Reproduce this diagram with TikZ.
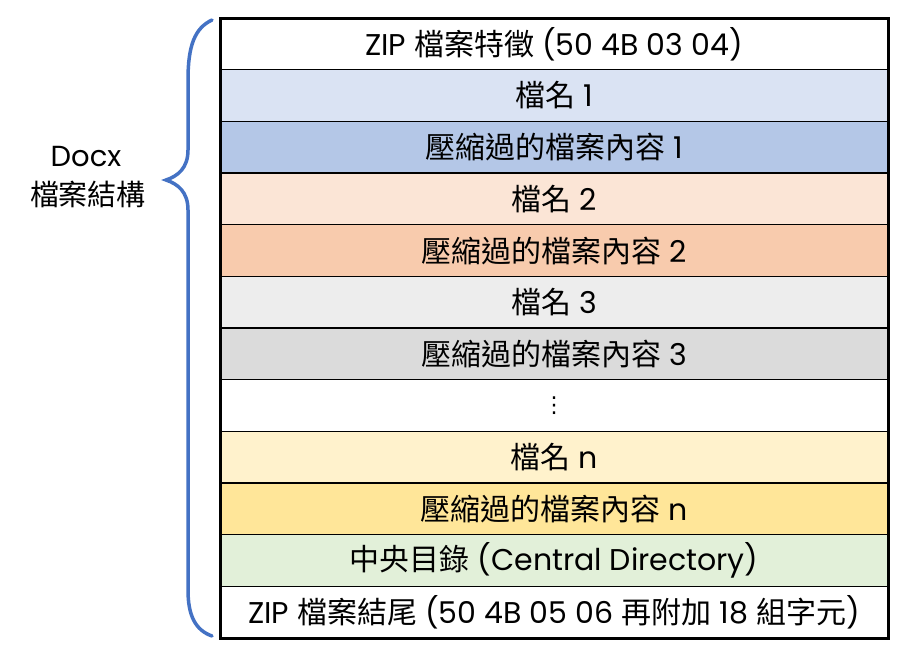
\documentclass[tikz,border=0pt]{standalone}
\usepackage{fontspec}
\setmainfont{Poppins}
\newfontfamily\cjk{Noto Sans CJK TC}
\newfontfamily\sym{DejaVu Sans}
\newcommand\zh[1]{{\cjk #1}}
\usetikzlibrary{positioning}

\definecolor{nameA}{HTML}{DAE3F3}
\definecolor{dataA}{HTML}{B4C7E7}
\definecolor{nameB}{HTML}{FBE5D6}
\definecolor{dataB}{HTML}{F8CBAD}
\definecolor{nameC}{HTML}{EDEDED}
\definecolor{dataC}{HTML}{DBDBDB}
\definecolor{nameN}{HTML}{FFF2CC}
\definecolor{dataN}{HTML}{FFE699}
\definecolor{central}{HTML}{E2F0D9}
\definecolor{brace}{HTML}{4472C4}

\tikzset{
	row/.style={draw=black, line width=1.2pt, minimum width=668pt, minimum height=51.67pt,
		inner sep=0pt, outer sep=0pt, font=\fontsize{30}{32}\selectfont},
	label/.style={font=\fontsize{29}{32}\selectfont}
}

\begin{document}
\begin{tikzpicture}[x=1pt,y=-1pt]

	\useasboundingbox (0,0) rectangle (908,657);

	\node[row, anchor=north west] (r1) at (220,18) {ZIP \zh{檔案特徵} (50 4B 03 04)};
	\node[row, fill=nameA, below=0pt of r1] (r2) {\zh{檔名} 1};
	\node[row, fill=dataA, below=0pt of r2] (r3) {\zh{壓縮過的檔案內容} 1};
	\node[row, fill=nameB, below=0pt of r3] (r4) {\zh{檔名} 2};
	\node[row, fill=dataB, below=0pt of r4] (r5) {\zh{壓縮過的檔案內容} 2};
	\node[row, fill=nameC, below=0pt of r5] (r6) {\zh{檔名} 3};
	\node[row, fill=dataC, below=0pt of r6] (r7) {\zh{壓縮過的檔案內容} 3};
	\node[row, below=0pt of r7] (r8) {\fontsize{22}{24}\selectfont\sym ⋮};
	\node[row, fill=nameN, below=0pt of r8] (r9) {\zh{檔名} n};
	\node[row, fill=dataN, below=0pt of r9] (r10) {\zh{壓縮過的檔案內容} n};
	\node[row, fill=central, below=0pt of r10] (r11) {\zh{中央目錄} (Central Directory)};
	\node[row, below=0pt of r11] (r12) {ZIP \zh{檔案結尾} (50 4B 05 06 \zh{再附加} 18 \zh{組字元})};

	\draw[line width=3pt] (r1.north west) rectangle (r12.south east);

	% brace
	\draw[brace, line width=3.5pt, line cap=round]
		(212,20) .. controls (195,28) and (188,45) .. (188,80)
		-- (188,150) .. controls (188,168) and (178,176) .. (166,180)
		.. controls (178,184) and (188,192) .. (188,210)
		-- (188,590) .. controls (188,615) and (195,630) .. (212,636);

	\node[label] (docx) at (86,157) {Docx};
	\node[label] (struct) at (88,194) {\zh{檔案結構}};

\end{tikzpicture}
\end{document}
